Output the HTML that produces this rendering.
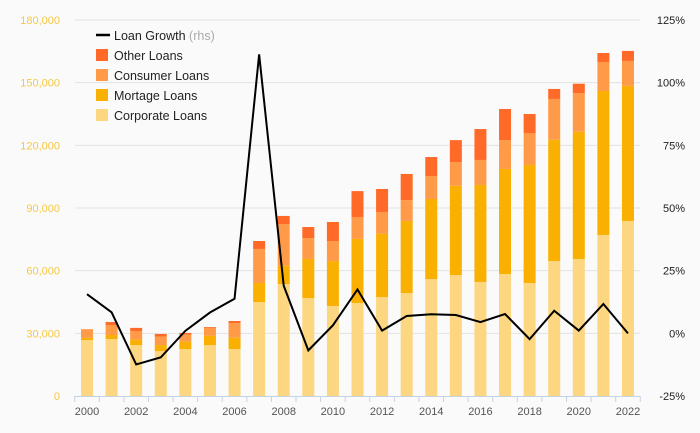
<!DOCTYPE html>
<html><head><meta charset="utf-8">
<style>
body{margin:0;background:#fafafa;}
svg{display:block;font-family:"Liberation Sans",sans-serif;}
</style></head>
<body>
<svg id="chart" width="700" height="433" viewBox="0 0 700 433">
<rect width="700" height="433" fill="#fafafa"/>
<g id="grid"></g><g id="bars"></g><g id="line"></g><g id="axes"></g>
<g id="legend">
  <line x1="96" y1="35" x2="110" y2="35" stroke="#000" stroke-width="2.5"/>
  <text x="114" y="40" font-size="12.5" fill="#222">Loan Growth <tspan fill="#aaa">(rhs)</tspan></text>
  <rect x="96" y="49" width="12" height="12" fill="#ff6a28"/>
  <text x="114" y="60" font-size="12.5" fill="#222">Other Loans</text>
  <rect x="96" y="69" width="12" height="12" fill="#ff9b48"/>
  <text x="114" y="80" font-size="12.5" fill="#222">Consumer Loans</text>
  <rect x="96" y="89" width="12" height="12" fill="#f9b000"/>
  <text x="114" y="100" font-size="12.5" fill="#222">Mortage Loans</text>
  <rect x="96" y="109" width="12" height="12" fill="#fcd680"/>
  <text x="114" y="120" font-size="12.5" fill="#222">Corporate Loans</text>
</g>
</svg>
<script>
const years=[2000,2001,2002,2003,2004,2005,2006,2007,2008,2009,2010,2011,2012,2013,2014,2015,2016,2017,2018,2019,2020,2021,2022];
const corporate=[26800,27300,24400,21500,22500,24400,22500,45000,53600,46900,43100,44500,47400,49300,56000,57900,54600,58400,54100,64600,65600,77100,83800];
const mortgage=[1100,1900,2600,2900,3500,4500,5400,9100,8800,18700,21500,30700,30300,34500,38300,42700,46400,50300,56500,58100,60900,68900,64700];
const consumer=[4100,4800,4100,4000,3400,3700,7000,16300,19900,10000,9600,10500,10400,10000,11000,11400,12000,13800,15300,19500,18500,13900,11900];
const other=[0,1400,1500,1300,800,400,1000,3800,3900,5300,9100,12400,11000,12500,9100,10500,14800,14900,9100,4800,4500,4300,4800];
const growth=[15.6,8.4,-12.4,-9.6,1,8.3,13.8,111.3,19,-6.8,3.2,17.5,1.1,6.9,7.6,7.3,4.5,7.7,-2.3,9,1.1,11.7,0];
const leftTicks=[0,30000,60000,90000,120000,150000,180000];
const rightTicks=[-25,0,25,50,75,100,125];
const xLabels=[2000,2002,2004,2006,2008,2010,2012,2014,2016,2018,2020,2022];
const NS="http://www.w3.org/2000/svg";
const x=y=>87+(y-2000)*24.59;
const yL=v=>396-v*(376/180000);
const yR=v=>396-(v+25)*(376/150);
function mk(t,a,p){const e=document.createElementNS(NS,t);for(const k in a)e.setAttribute(k,a[k]);p.appendChild(e);return e;}
const g=document.getElementById('grid'),b=document.getElementById('bars'),l=document.getElementById('line'),ax=document.getElementById('axes');
leftTicks.forEach((v,i)=>{
  if(v>0){const ln=mk('line',{x1:75,x2:640,y1:yL(v),y2:yL(v),stroke:'#e3e3e3','stroke-width':1},g);
  
  }
  const t=mk('text',{x:60,y:yL(v)+4,'text-anchor':'end','font-size':11,fill:'#f5c843'},ax);
  t.textContent=v.toLocaleString('en-US');
  
  
});
rightTicks.forEach(v=>{
  const t=mk('text',{x:685,y:yR(v)+4,'text-anchor':'end','font-size':11,fill:'#222'},ax);
  t.textContent=v+'%';
  
  
});
const series=[[corporate,'#fcd680','corporate'],[mortgage,'#f9b000','mortgage'],[consumer,'#ff9b48','consumer'],[other,'#ff6a28','other']];
years.forEach((yr,i)=>{
  let base=0;
  series.forEach(([arr,c,n])=>{
    const v=arr[i]; if(v<=0){return;}
    const top=base+v;
    const r=mk('rect',{x:x(yr)-6,y:yL(top),width:12,height:yL(base)-yL(top),fill:c},b);
    
    
    base=top;
  });
});
const pl=mk('polyline',{points:years.map((yr,i)=>x(yr)+','+yR(growth[i])).join(' '),fill:'none',stroke:'#000','stroke-width':2,'stroke-linejoin':'miter'},l);


const axl=mk('line',{x1:74.7,x2:640,y1:396.5,y2:396.5,stroke:'#c5d3e6','stroke-width':1},ax);


for(let k=0;k<=23;k++){
  const xx=74.7+k*24.59;
  const tk=mk('line',{x1:xx,x2:xx,y1:396,y2:402,stroke:'#c5d3e6'},ax);
  
  
}
xLabels.forEach(yr=>{
  const t=mk('text',{x:x(yr),y:415,'text-anchor':'middle','font-size':11,fill:'#555'},ax);
  t.textContent=yr;
  
  
});
</script>
</body></html>
